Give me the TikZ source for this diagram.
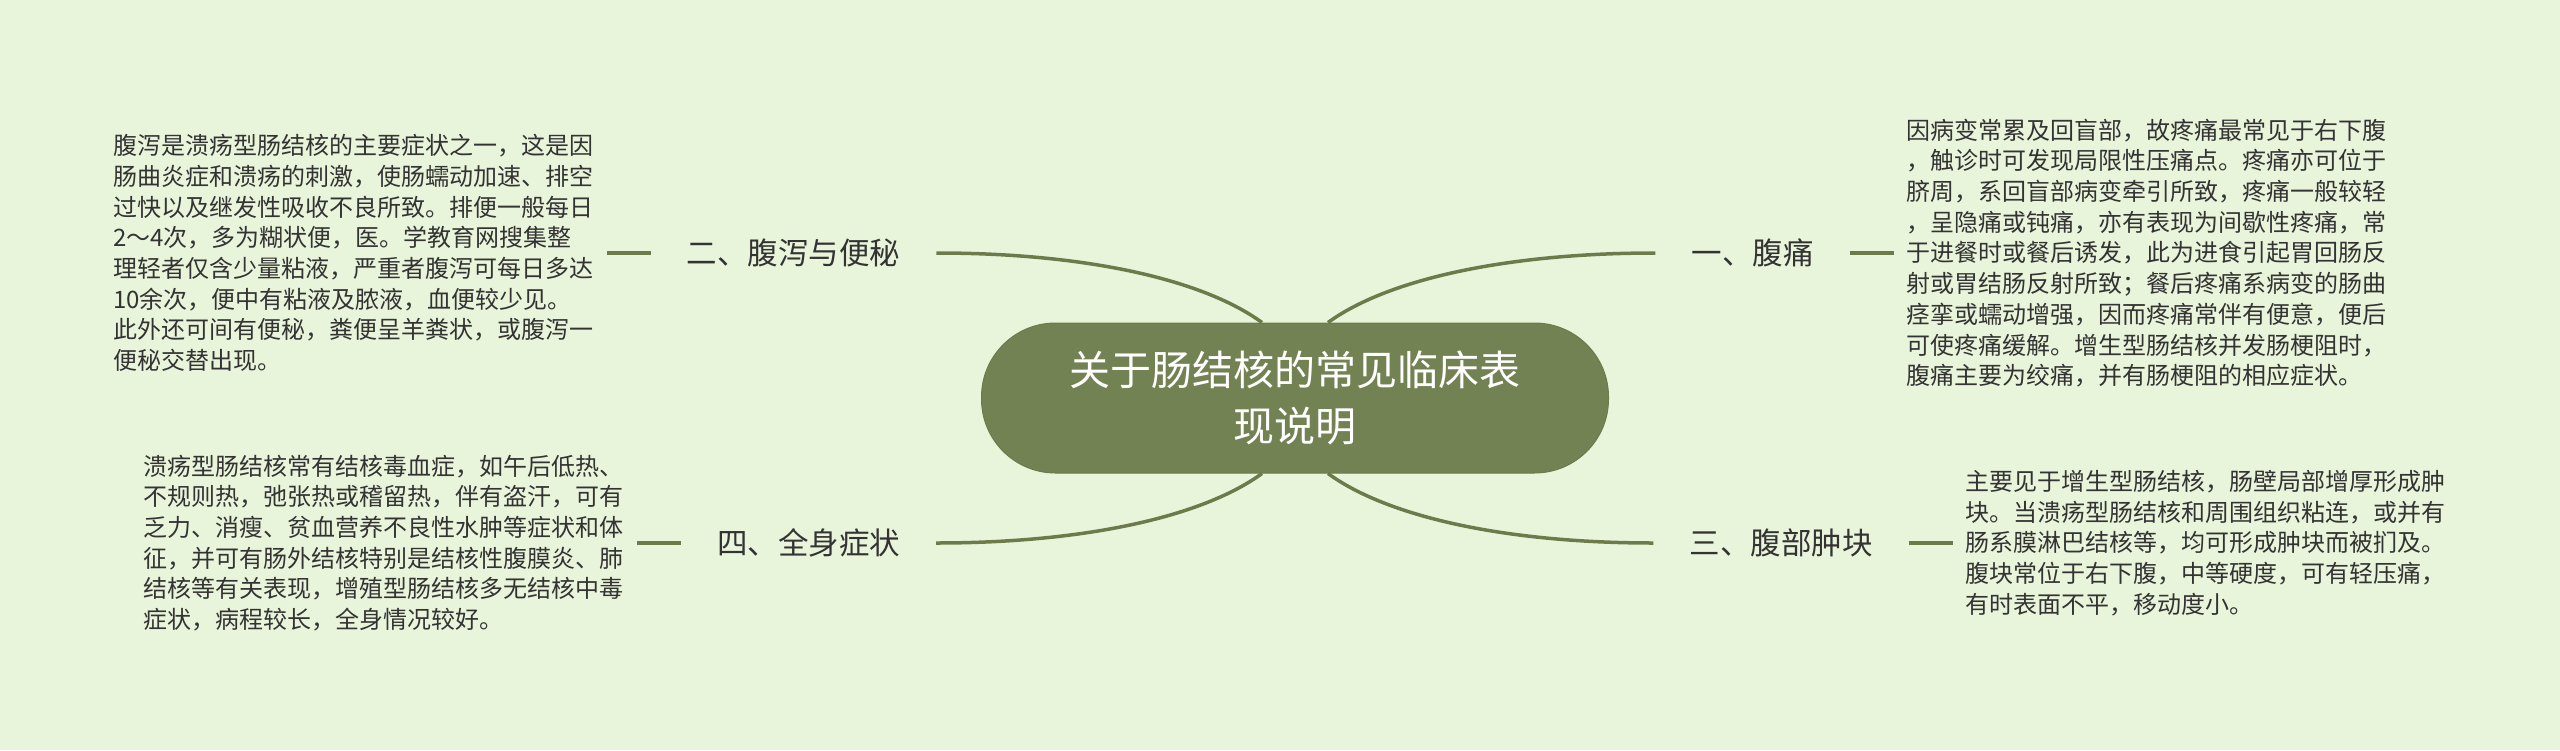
\documentclass[tikz,border=0pt]{standalone}
\usepackage{fontspec}
\setmainfont{Noto Sans CJK SC}
\usetikzlibrary{positioning}
\definecolor{bgcolor}{HTML}{E9F5DB}
\definecolor{olive}{HTML}{738253}
\definecolor{branchline}{HTML}{6D7B4B}
\definecolor{textgray}{HTML}{333333}

\begin{document}
\begin{tikzpicture}[x=1pt, y=-1pt,
    topic/.style={fill=olive, draw=branchline, line width=1pt, rounded corners=74pt,
        minimum width=627pt, minimum height=150pt, text=white, align=center,
        font=\fontsize{41}{56}\selectfont},
    branch/.style={inner xsep=36pt, inner ysep=4pt, text=textgray,
        font=\fontsize{30.5}{36}\selectfont},
    detail/.style={inner xsep=13pt, inner ysep=2pt, align=left, text=textgray,
        font=\fontsize{24}{30.7}\selectfont},
    curvelink/.style={draw=branchline, line width=3.5pt},
    shortlink/.style={draw=branchline, line width=4pt}
]
    % Definitions
    \def \offset{33pt}
    % Background
    \fill[bgcolor] (0,0) rectangle (2560,750);
    \useasboundingbox (0,0) rectangle (2560,750);
    %%%
    %%% Central topic
    %%%
    \node[topic] (topic) at (1295,398) {关于肠结核的常见临床表\\现说明};
    %%%
    %%% Branches
    %%%
    \node[branch] (pain)   at (1752.5,253) {一、腹痛};
    \node[branch] (stool)  at (793.5,253)  {二、腹泻与便秘};
    \node[branch] (mass)   at (1781,543)   {三、腹部肿块};
    \node[branch] (fever)  at (808.5,543)  {四、全身症状};
    % Curved links
    \draw[curvelink] ([xshift=\offset]topic.north)  .. controls +(62,-45) and +(-143,0) .. (pain.west);
    \draw[curvelink] ([xshift=-\offset]topic.north) .. controls +(-62,-45) and +(143,0) .. (stool.east);
    \draw[curvelink] ([xshift=\offset]topic.south)  .. controls +(62,45) and +(-143,0) .. (mass.west);
    \draw[curvelink] ([xshift=-\offset]topic.south) .. controls +(-62,45) and +(143,0) .. (fever.east);
    %%%
    %%% Details
    %%%
    \node[detail, right=44pt of pain] (paintext) {因病变常累及回盲部，故疼痛最常见于右下腹\\，触诊时可发现局限性压痛点。疼痛亦可位于\\脐周，系回盲部病变牵引所致，疼痛一般较轻\\，呈隐痛或钝痛，亦有表现为间歇性疼痛，常\\于进餐时或餐后诱发，此为进食引起胃回肠反\\射或胃结肠反射所致；餐后疼痛系病变的肠曲\\痉挛或蠕动增强，因而疼痛常伴有便意，便后\\可使疼痛缓解。增生型肠结核并发肠梗阻时，\\腹痛主要为绞痛，并有肠梗阻的相应症状。};
    \node[detail, left=44pt of stool] (stooltext) {腹泻是溃疡型肠结核的主要症状之一，这是因\\肠曲炎症和溃疡的刺激，使肠蠕动加速、排空\\过快以及继发性吸收不良所致。排便一般每日\\2～4次，多为糊状便，医。学教育网搜集整\\理轻者仅含少量粘液，严重者腹泻可每日多达\\10余次，便中有粘液及脓液，血便较少见。\\此外还可间有便秘，粪便呈羊粪状，或腹泻一\\便秘交替出现。};
    \node[detail, right=44pt of mass] (masstext) {主要见于增生型肠结核，肠壁局部增厚形成肿\\块。当溃疡型肠结核和周围组织粘连，或并有\\肠系膜淋巴结核等，均可形成肿块而被扪及。\\腹块常位于右下腹，中等硬度，可有轻压痛，\\有时表面不平，移动度小。};
    \node[detail, left=44pt of fever] (fevertext) {溃疡型肠结核常有结核毒血症，如午后低热、\\不规则热，弛张热或稽留热，伴有盗汗，可有\\乏力、消瘦、贫血营养不良性水肿等症状和体\\征，并可有肠外结核特别是结核性腹膜炎、肺\\结核等有关表现，增殖型肠结核多无结核中毒\\症状，病程较长，全身情况较好。};
    % Short links
    \draw[shortlink] (pain.east)  -- (paintext.west);
    \draw[shortlink] (stool.west) -- (stooltext.east);
    \draw[shortlink] (mass.east)  -- (masstext.west);
    \draw[shortlink] (fever.west) -- (fevertext.east);
\end{tikzpicture}
\end{document}
